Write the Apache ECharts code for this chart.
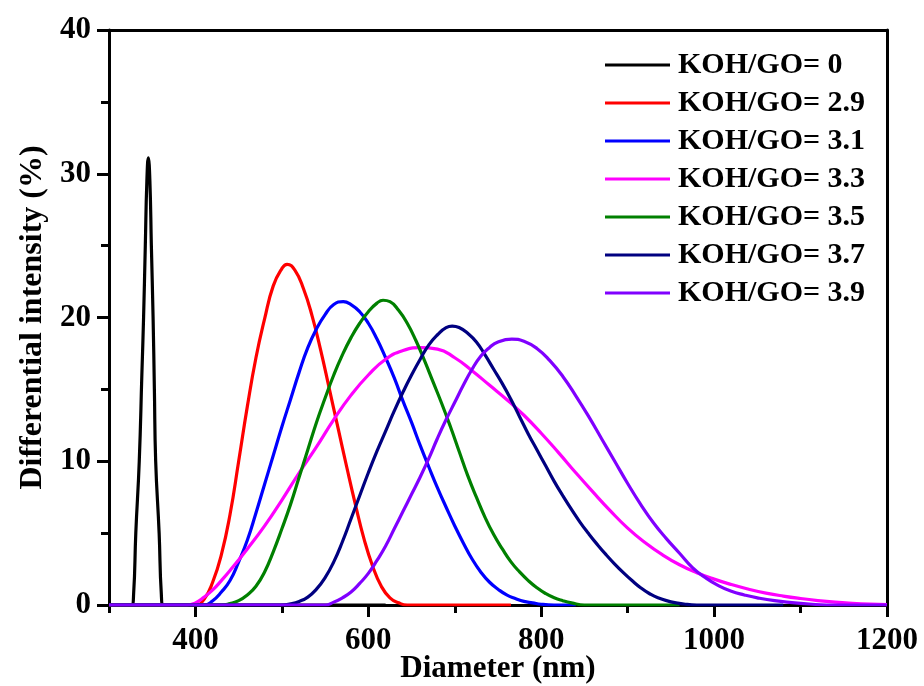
<!DOCTYPE html>
<html>
<head>
<meta charset="utf-8">
<script src="https://cdn.jsdelivr.net/npm/echarts@6/dist/echarts.min.js"></script>
<style>
  html, body { margin: 0; padding: 0; background: #fff; }
  #main { width: 924px; height: 686px; }
</style>
</head>
<body>
<div id="main"></div>
<script>
// 图例名称
var legendNames = ['KOH/GO= 0', 'KOH/GO= 2.9', 'KOH/GO= 3.1', 'KOH/GO= 3.3', 'KOH/GO= 3.5', 'KOH/GO= 3.7', 'KOH/GO= 3.9'];
var lineColors = ['#000000', '#ff0000', '#0000ff', '#ff00ff', '#008000', '#000080', '#8000ff'];

// 各曲线数据 [直径(nm), 强度(%)]
var koh0 = [[300, 0], [326, 0], [328.5, 0.8], [331, 5], [335, 10], [338, 16], [340, 20], [342, 25],
  [343.8, 29.5], [345.5, 31.1], [347.3, 29.5], [349, 25], [351, 20], [352.5, 15], [354, 10], [358, 5],
  [360.5, 0.8], [363, 0], [620, 0]];
var koh29 = [[300, 0], [400, 0], [410, 0.4], [420, 1.6], [430, 3.5], [440, 6.3], [450, 10], [460, 13.8],
  [470, 17.2], [480, 19.9], [490, 22.2], [500, 23.4], [506, 23.7], [515, 23.3], [525, 22], [535, 20.1],
  [545, 17.7], [555, 15], [565, 12.3], [575, 9.6], [585, 7], [595, 4.6], [605, 2.7], [615, 1.3],
  [625, 0.5], [635, 0.15], [645, 0], [765, 0]];
var koh31 = [[300, 0], [410, 0], [420, 0.3], [430, 0.9], [440, 1.7], [450, 3], [460, 4.5], [470, 6.4],
  [480, 8.4], [490, 10.4], [500, 12.4], [510, 14.3], [520, 16.2], [530, 17.9], [540, 19.2], [550, 20.2],
  [560, 20.9], [571, 21.1], [580, 20.9], [590, 20.4], [600, 19.6], [610, 18.5], [620, 17.2], [630, 15.8],
  [640, 14.2], [650, 12.7], [660, 11.1], [670, 9.6], [680, 8.15], [690, 6.8], [700, 5.5], [710, 4.3],
  [720, 3.2], [730, 2.3], [740, 1.6], [750, 1.1], [760, 0.7], [770, 0.45], [780, 0.25], [790, 0.15],
  [800, 0.05], [815, 0], [840, 0]];
var koh33 = [[300, 0], [390, 0], [400, 0.15], [410, 0.55], [420, 1.05], [430, 1.7], [440, 2.4], [460, 3.9],
  [480, 5.5], [500, 7.3], [520, 9.2], [540, 11], [560, 12.9], [580, 14.6], [600, 16], [620, 17.1],
  [640, 17.7], [660, 17.9], [680, 17.8], [700, 17.2], [720, 16.3], [740, 15.3], [760, 14.3], [780, 13.2],
  [800, 11.95], [820, 10.6], [840, 9.2], [860, 7.85], [880, 6.55], [900, 5.35], [920, 4.35], [940, 3.5],
  [960, 2.8], [980, 2.25], [1000, 1.8], [1020, 1.42], [1040, 1.1], [1060, 0.83], [1080, 0.62],
  [1100, 0.45], [1120, 0.31], [1140, 0.2], [1160, 0.12], [1180, 0.06], [1200, 0.02]];
var koh35 = [[300, 0], [430, 0], [440, 0.1], [450, 0.3], [460, 0.7], [470, 1.3], [480, 2.3], [490, 3.7],
  [500, 5.3], [510, 7], [520, 8.9], [530, 10.8], [540, 12.7], [550, 14.4], [560, 16], [570, 17.4],
  [580, 18.6], [590, 19.6], [600, 20.4], [610, 21], [617, 21.2], [625, 21.1], [635, 20.5], [645, 19.6],
  [655, 18.4], [665, 17], [675, 15.5], [685, 14], [695, 12.4], [705, 10.7], [715, 9], [725, 7.5],
  [735, 6.1], [745, 4.9], [755, 3.9], [765, 3], [775, 2.3], [785, 1.7], [795, 1.2], [805, 0.8],
  [815, 0.5], [825, 0.3], [835, 0.15], [850, 0], [960, 0]];
var koh37 = [[300, 0], [500, 0], [510, 0.08], [520, 0.25], [530, 0.55], [540, 1.1], [550, 1.9], [560, 3],
  [570, 4.4], [580, 6], [590, 7.6], [600, 9.2], [610, 10.7], [620, 12.1], [630, 13.5], [640, 14.8],
  [650, 16], [660, 17.1], [670, 18.1], [680, 18.8], [690, 19.3], [697, 19.4], [705, 19.3], [715, 18.9],
  [725, 18.3], [735, 17.4], [745, 16.4], [755, 15.4], [765, 14.3], [775, 13.1], [785, 11.9], [795, 10.8],
  [805, 9.7], [815, 8.6], [825, 7.6], [835, 6.65], [845, 5.75], [855, 4.95], [865, 4.2], [875, 3.5],
  [885, 2.85], [895, 2.25], [905, 1.7], [915, 1.2], [925, 0.8], [935, 0.5], [950, 0.22], [965, 0.07],
  [980, 0], [1080, 0]];
var koh39 = [[300, 0], [550, 0], [560, 0.2], [570, 0.5], [580, 0.9], [590, 1.5], [600, 2.2], [610, 3.1],
  [620, 4.1], [630, 5.3], [640, 6.5], [650, 7.7], [660, 8.9], [670, 10.2], [680, 11.6], [690, 12.9],
  [700, 14.1], [710, 15.3], [720, 16.4], [730, 17.3], [740, 17.9], [750, 18.3], [766, 18.5], [780, 18.35],
  [795, 17.85], [810, 17], [825, 15.9], [840, 14.55], [855, 13.1], [870, 11.55], [885, 10], [900, 8.45],
  [915, 7], [930, 5.7], [945, 4.6], [960, 3.6], [975, 2.6], [990, 1.9], [1005, 1.35], [1020, 0.95],
  [1035, 0.7], [1050, 0.5], [1070, 0.3], [1090, 0.17], [1110, 0.07], [1130, 0], [1200, 0]];
var seriesData = [koh0, koh29, koh31, koh33, koh35, koh37, koh39];

// 坐标轴刻度
var xMajorTicks = [400, 600, 800, 1000, 1200];
var xMinorTicks = [300, 500, 700, 900, 1100];

var fontName = 'Liberation Serif';
var myChart = echarts.init(document.getElementById('main'));

var series = [];
for (var i = 0; i < seriesData.length; i++) {
  series.push({
    name: legendNames[i],
    type: 'line',
    xAxisIndex: 0,
    yAxisIndex: 0,
    data: seriesData[i],
    smooth: 0.5,
    symbol: 'none',
    color: lineColors[i],
    lineStyle: { width: 3.2, color: lineColors[i] }
  });
}

myChart.setOption({
  animation: false,
  backgroundColor: '#fff',
  grid: { left: 109, right: 37, top: 30, bottom: 81, outerBoundsMode: 'none' },
  legend: {
    orient: 'vertical',
    left: 605,
    top: 50,
    padding: 0,
    icon: 'rect',
    itemWidth: 65,
    itemHeight: 3,
    itemGap: 8,
    data: legendNames,
    textStyle: {
      fontFamily: fontName,
      fontWeight: 'bold',
      fontSize: 30,
      lineHeight: 30,
      color: '#000',
      padding: [0, 0, 0, 3]
    }
  },
  xAxis: [{
    type: 'value',
    min: 300,
    max: 1200,
    position: 'bottom',
    name: 'Diameter (nm)',
    nameLocation: 'middle',
    nameGap: 48,
    nameMoveOverlap: false,
    nameTextStyle: { fontFamily: fontName, fontWeight: 'bold', fontSize: 31, color: '#000' },
    axisLine: { onZero: false, lineStyle: { color: '#000', width: 3 } },
    axisTick: { customValues: xMajorTicks, length: 12, lineStyle: { color: '#000', width: 3 } },
    axisLabel: {
      customValues: xMajorTicks,
      margin: 20,
      formatter: function (v) { return String(v); },
      fontFamily: fontName, fontWeight: 'bold', fontSize: 31, color: '#000'
    },
    splitLine: { show: false }
  }, {
    type: 'value',
    min: 300,
    max: 1200,
    position: 'bottom',
    axisLine: { show: false },
    axisTick: { customValues: xMinorTicks, length: 8, lineStyle: { color: '#000', width: 3 } },
    axisLabel: { show: false },
    splitLine: { show: false }
  }, {
    type: 'value',
    min: 300,
    max: 1200,
    position: 'top',
    axisLine: { onZero: false, lineStyle: { color: '#000', width: 3 } },
    axisTick: { show: false },
    axisLabel: { show: false },
    splitLine: { show: false }
  }],
  yAxis: [{
    type: 'value',
    min: 0,
    max: 40,
    interval: 10,
    position: 'left',
    name: 'Differential intensity (%)',
    nameLocation: 'middle',
    nameGap: 60,
    nameMoveOverlap: false,
    nameTextStyle: { fontFamily: fontName, fontWeight: 'bold', fontSize: 32, color: '#000' },
    axisLine: { show: true, onZero: false, lineStyle: { color: '#000', width: 3 } },
    axisTick: { show: true, length: 12, lineStyle: { color: '#000', width: 3 } },
    minorTick: { show: true, splitNumber: 2, length: 8, lineStyle: { color: '#000', width: 3 } },
    axisLabel: { margin: 18, fontFamily: fontName, fontWeight: 'bold', fontSize: 31, color: '#000' },
    splitLine: { show: false }
  }, {
    type: 'value',
    min: 0,
    max: 40,
    position: 'right',
    axisLine: { show: true, onZero: false, lineStyle: { color: '#000', width: 3 } },
    axisTick: { show: false },
    axisLabel: { show: false },
    splitLine: { show: false }
  }],
  series: series
});
</script>
</body>
</html>
